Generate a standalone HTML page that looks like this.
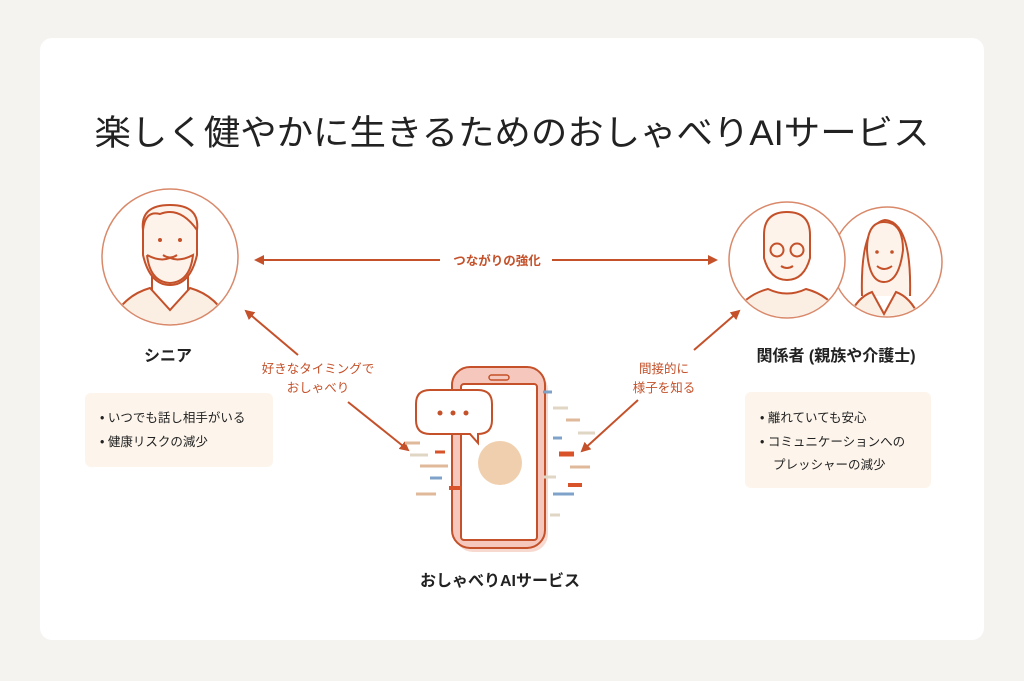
<!DOCTYPE html>
<html><head><meta charset="utf-8"><style>
html,body{margin:0;padding:0;background:#f4f3f0;}
svg{display:block;}
text{font-family:"Liberation Sans","Noto Sans CJK JP",sans-serif;}
</style></head><body>
<svg width="1024" height="681" viewBox="0 0 1024 681" xmlns="http://www.w3.org/2000/svg">
<defs>
<marker id="ah" viewBox="0 0 10 10" refX="8" refY="5" markerWidth="5" markerHeight="5" orient="auto-start-reverse">
<path d="M0,0 L10,5 L0,10 z" fill="#c4512a"/></marker>
<clipPath id="c1"><circle cx="170" cy="257" r="67"/></clipPath>
<clipPath id="c2"><circle cx="787" cy="260" r="57"/></clipPath>
<clipPath id="c3"><circle cx="887" cy="262" r="54"/></clipPath>
</defs>
<rect x="0" y="0" width="1024" height="681" fill="#f4f3f0"/>
<rect x="40" y="38" width="944" height="602" rx="12" fill="#fff"/>
<text x="512" y="145" text-anchor="middle" font-size="35" fill="#222" textLength="835" lengthAdjust="spacingAndGlyphs">楽しく健やかに生きるためのおしゃべりAIサービス</text>

<!-- senior -->
<circle cx="170" cy="257" r="68" fill="#fff" stroke="#d9896a" stroke-width="1.5"/>
<g stroke="#c4512a" stroke-width="2" fill="none" clip-path="url(#c1)">
<path d="M105,340 Q115,298 150,288 L170,310 L190,288 Q225,298 235,340 z" fill="#fbeee3"/>
<path d="M152,290 L152,275 M188,290 L188,275"/>
<path d="M143,230 Q140,205 170,205 Q200,205 197,230 L197,255 Q190,285 170,285 Q150,285 143,255 z" fill="#fdf3ea"/>
<path d="M143,230 Q145,210 160,214 Q180,206 197,230"/>
<path d="M147,255 Q160,262 170,258 Q180,262 193,255 Q190,282 170,283 Q150,282 147,255"/>
<path d="M163,255 Q170,260 177,255"/>
</g>
<circle cx="160" cy="240" r="2" fill="#c4512a"/><circle cx="180" cy="240" r="2" fill="#c4512a"/>
<text x="168" y="361" text-anchor="middle" font-size="16" font-weight="bold" fill="#222">シニア</text>
<rect x="85" y="393" width="188" height="74" rx="6" fill="#fdf5ec"/>
<text x="100" y="422" font-size="12.5" fill="#222">• いつでも話し相手がいる</text>
<text x="100" y="446" font-size="12.5" fill="#222">• 健康リスクの減少</text>

<!-- relatives -->
<circle cx="887" cy="262" r="55" fill="#fff" stroke="#d9896a" stroke-width="1.5"/>
<g stroke="#c4512a" stroke-width="2" fill="none" clip-path="url(#c3)">
<path d="M862,296 Q860,225 885,220 Q912,222 910,296" fill="#fdf3ea"/>
<path d="M842,340 Q850,300 872,292 L884,314 L896,292 Q918,300 926,340 z" fill="#fbeee3"/>
<path d="M867,250 Q867,222 884,222 Q903,222 903,250 Q899,282 884,282 Q869,282 867,250 z" fill="#fdf3ea"/>
<path d="M877,266 Q884,272 892,266"/>
</g>
<circle cx="877" cy="252" r="1.8" fill="#c4512a"/><circle cx="892" cy="252" r="1.8" fill="#c4512a"/>
<circle cx="787" cy="260" r="58" fill="#fff" stroke="#d9896a" stroke-width="1.5"/>
<g stroke="#c4512a" stroke-width="2" fill="none" clip-path="url(#c2)">
<path d="M725,340 Q733,298 768,289 Q787,298 806,289 Q841,298 849,340 z" fill="#fbeee3"/>
<path d="M764,235 Q764,212 787,212 Q810,212 810,235 L810,258 Q804,280 787,280 Q770,280 764,258 z" fill="#fdf3ea"/>
<circle cx="777" cy="250" r="6.5"/><circle cx="797" cy="250" r="6.5"/>
<path d="M781,266 Q787,270 793,266"/>
</g>
<text x="836" y="361" text-anchor="middle" font-size="16" font-weight="bold" fill="#222">関係者 (親族や介護士)</text>
<rect x="745" y="392" width="186" height="96" rx="6" fill="#fdf5ec"/>
<text x="760" y="422" font-size="12.5" fill="#222">• 離れていても安心</text>
<text x="760" y="446" font-size="12.5" fill="#222">• コミュニケーションへの</text>
<text x="773" y="469" font-size="12.5" fill="#222">プレッシャーの減少</text>

<!-- arrows -->
<line x1="256" y1="260" x2="716" y2="260" stroke="#c4512a" stroke-width="2" marker-start="url(#ah)" marker-end="url(#ah)"/>
<rect x="440" y="250" width="112" height="20" fill="#fff"/>
<text x="497" y="265" text-anchor="middle" font-size="12.5" font-weight="bold" fill="#c4512a">つながりの強化</text>
<line x1="246" y1="311" x2="298" y2="355" stroke="#c4512a" stroke-width="2" marker-start="url(#ah)"/>
<line x1="348" y1="402" x2="408" y2="450" stroke="#c4512a" stroke-width="2" marker-end="url(#ah)"/>
<text x="318" y="373" text-anchor="middle" font-size="12.5" fill="#c4512a">好きなタイミングで</text>
<text x="318" y="392" text-anchor="middle" font-size="12.5" fill="#c4512a">おしゃべり</text>
<line x1="739" y1="311" x2="694" y2="350" stroke="#c4512a" stroke-width="2" marker-start="url(#ah)"/>
<line x1="638" y1="400" x2="582" y2="451" stroke="#c4512a" stroke-width="2" marker-end="url(#ah)"/>
<text x="664" y="373" text-anchor="middle" font-size="12.5" fill="#c4512a">間接的に</text>
<text x="664" y="392" text-anchor="middle" font-size="12.5" fill="#c4512a">様子を知る</text>

<!-- phone -->
<rect x="455" y="372" width="93" height="180" rx="18" fill="#f8d9cf"/>
<rect x="452" y="367" width="93" height="181" rx="18" fill="#f6c8bd" stroke="#c4512a" stroke-width="2"/>
<rect x="461" y="384" width="76" height="156" rx="3" fill="#fff" stroke="#c4512a" stroke-width="2"/>
<rect x="489" y="375" width="20" height="5" rx="2.5" fill="none" stroke="#c4512a" stroke-width="1.5"/>
<circle cx="500" cy="463" r="22" fill="#f0cfae"/>
<path d="M430,390 L478,390 Q492,390 492,404 L492,420 Q492,434 478,434 L478,434 L478,443 L470,434 L430,434 Q416,434 416,420 L416,404 Q416,390 430,390 z" fill="#fff" stroke="#c4512a" stroke-width="2"/>
<circle cx="440" cy="413" r="2.5" fill="#c4512a"/><circle cx="453" cy="413" r="2.5" fill="#c4512a"/><circle cx="466" cy="413" r="2.5" fill="#c4512a"/>
<g stroke-width="3">
<line x1="405" y1="443" x2="420" y2="443" stroke="#e0b89a"/>
<line x1="410" y1="455" x2="428" y2="455" stroke="#e0d6c4"/>
<line x1="420" y1="466" x2="448" y2="466" stroke="#e0b89a"/>
<line x1="430" y1="478" x2="442" y2="478" stroke="#7fa3c8"/>
<line x1="416" y1="494" x2="436" y2="494" stroke="#e0b89a"/>
<line x1="449" y1="488" x2="462" y2="488" stroke="#d9532a" stroke-width="4"/>
<line x1="435" y1="452" x2="445" y2="452" stroke="#d9532a"/>
<line x1="543" y1="392" x2="552" y2="392" stroke="#7fa3c8"/>
<line x1="553" y1="408" x2="568" y2="408" stroke="#e0d6c4"/>
<line x1="566" y1="420" x2="580" y2="420" stroke="#e0b89a"/>
<line x1="578" y1="433" x2="595" y2="433" stroke="#e0d6c4"/>
<line x1="553" y1="438" x2="562" y2="438" stroke="#7fa3c8"/>
<line x1="559" y1="454" x2="574" y2="454" stroke="#d9532a" stroke-width="5"/>
<line x1="570" y1="467" x2="590" y2="467" stroke="#e0b89a"/>
<line x1="568" y1="485" x2="582" y2="485" stroke="#d9532a" stroke-width="4"/>
<line x1="553" y1="494" x2="574" y2="494" stroke="#7fa3c8"/>
<line x1="543" y1="477" x2="556" y2="477" stroke="#e0d6c4"/>
<line x1="550" y1="515" x2="560" y2="515" stroke="#e0d6c4"/>
</g>
<text x="500" y="586" text-anchor="middle" font-size="16" font-weight="bold" fill="#222">おしゃべりAIサービス</text>
</svg>
</body></html>
